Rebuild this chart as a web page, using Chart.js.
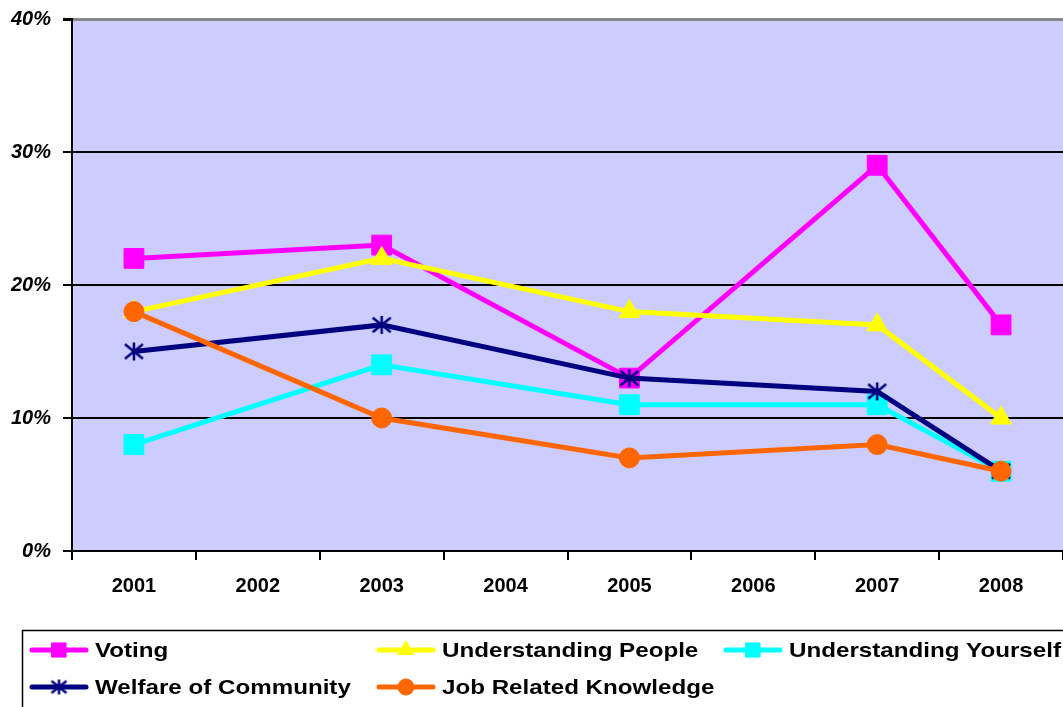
<!DOCTYPE html>
<html>
<head>
<meta charset="utf-8">
<script src="https://cdn.jsdelivr.net/npm/chart.js@4"></script>
<style>
  html, body { margin: 0; padding: 0; background: #fff; }
  #wrap { position: relative; width: 1063px; height: 707px; }
</style>
</head>
<body>
<div id="wrap"><canvas id="chart"></canvas></div>
<script>
const years = ['2001', '2002', '2003', '2004', '2005', '2006', '2007', '2008'];
const yTicks = [0, 10, 20, 30, 40];

// percent values, no survey in 2002/2004/2006
const voting = [22, null, 23, null, 13, null, 29, 17];
const understandingPeople = [18, null, 22, null, 18, null, 17, 10];
const understandingYourself = [8, null, 14, null, 11, null, 11, 6];
const welfareOfCommunity = [15, null, 17, null, 13, null, 12, 6];
const jobKnowledge = [18, null, 10, null, 7, null, 8, 6];

const FONT = '"Liberation Sans", Arial, sans-serif';

// Excel-style asterisk: an X plus a vertical bar
function makeAsterisk(size, color) {
    const c = document.createElement('canvas');
    c.width = size;
    c.height = size;
    const g = c.getContext('2d');
    const m = size / 2;
    const r = size / 2 - 2;
    g.strokeStyle = color;
    g.lineWidth = 2.5;
    g.lineCap = 'butt';
    g.beginPath();
    g.moveTo(m, m - r); g.lineTo(m, m + r);
    g.moveTo(m - r, m - r * 0.8); g.lineTo(m + r, m + r * 0.8);
    g.moveTo(m - r, m + r * 0.8); g.lineTo(m + r, m - r * 0.8);
    g.stroke();
    return c;
}

const starBig = makeAsterisk(22, '#000080');
const starSmall = makeAsterisk(19, '#000080');

function series(label, data, color, style, radius, order) {
    return {
        label: label,
        data: data,
        borderColor: color,
        backgroundColor: color,
        pointBackgroundColor: color,
        pointBorderColor: color,
        pointStyle: style,
        pointRadius: radius,
        pointHoverRadius: radius,
        pointBorderWidth: 1,
        borderWidth: 5,
        spanGaps: true,
        tension: 0,
        clip: false,
        order: order
    };
}

const plotBackground = {
    id: 'plotBackground',
    beforeDraw (chart) {
        const a = chart.chartArea;
        const ctx = chart.ctx;
        ctx.save();
        ctx.fillStyle = '#CCCCFF';
        ctx.fillRect(a.left, a.top, a.right - a.left, a.bottom - a.top);
        ctx.restore();
    }
};

const legendPointRadius = { rect: 10, triangle: 9, circle: 8 };

// legend box laid out in columns like the original
const boxLegend = {
    id: 'boxLegend',
    afterDraw (chart) {
        const ctx = chart.ctx;
        const slots = [
            [30, 650], [377, 650], [724, 650],
            [30, 687], [377, 687]
        ];
        ctx.save();
        ctx.strokeStyle = '#000';
        ctx.lineWidth = 1.5;
        ctx.strokeRect(22.5, 630.5, 1100, 100);
        chart.data.datasets.forEach((ds, i) => {
            const [x, y] = slots[i];
            ctx.strokeStyle = ds.borderColor;
            ctx.lineWidth = 5;
            ctx.lineCap = 'round';
            ctx.beginPath();
            ctx.moveTo(x + 2, y);
            ctx.lineTo(x + 56, y);
            ctx.stroke();
            ctx.fillStyle = ds.pointBackgroundColor;
            ctx.strokeStyle = ds.pointBorderColor;
            ctx.lineWidth = 1;
            const style = ds.pointStyle === starBig ? starSmall : ds.pointStyle;
            Chart.helpers.drawPoint(ctx, {
                pointStyle: style,
                rotation: 0,
                radius: legendPointRadius[style] || 8,
                borderWidth: 1
            }, x + 29, y);
            // text in the original is a little wider than Arial
            ctx.save();
            ctx.translate(x + 65, y + 1);
            ctx.scale(1.15, 1);
            ctx.fillStyle = '#000';
            ctx.font = 'bold 21px ' + FONT;
            ctx.textBaseline = 'middle';
            ctx.textAlign = 'left';
            ctx.fillText(ds.label, 0, 0);
            ctx.restore();
        });
        ctx.restore();
    }
};

const datasets = [
    series('Voting', voting, '#FF00FF', 'rect', 14, 4),
    series('Understanding People', understandingPeople, '#FFFF00', 'triangle', 12, 3),
    series('Understanding Yourself', understandingYourself, '#00FFFF', 'rect', 14, 2),
    series('Welfare of Community', welfareOfCommunity, '#000080', starBig, 11, 1),
    series('Job Related Knowledge', jobKnowledge, '#FF6600', 'circle', 10, 0)
];

new Chart(document.getElementById('chart'), {
    type: 'line',
    data: { labels: years, datasets: datasets },
    options: {
        responsive: true,
        maintainAspectRatio: false,
        animation: false,
        events: [],
        layout: { autoPadding: false, padding: { top: 19, right: 0, left: 0, bottom: 96 } },
        plugins: {
            legend: { display: false },
            tooltip: { enabled: false }
        },
        scales: {
            x: {
                type: 'category',
                offset: true,
                grid: {
                    offset: true,
                    drawOnChartArea: false,
                    drawTicks: true,
                    tickLength: 9,
                    color: '#000',
                    lineWidth: 2
                },
                border: { color: '#000', width: 2 },
                ticks: {
                    color: '#000',
                    font: { family: FONT, size: 20, weight: 'bold' },
                    padding: 14,
                    maxRotation: 0,
                    autoSkip: false
                },
                afterFit (scale) {
                    scale.height = 60;
                    scale.paddingLeft = 0;
                    scale.paddingRight = 0;
                }
            },
            y: {
                min: 0,
                max: 40,
                afterBuildTicks (scale) { scale.ticks = yTicks.map(v => ({ value: v })); },
                grid: {
                    color: (c) => (c.tick && c.tick.value === 40) ? '#888888' : '#000',
                    lineWidth: (c) => (c.tick && c.tick.value === 40) ? 3 : 2,
                    tickLength: 9,
                    tickColor: '#000'
                },
                border: { color: '#000', width: 2 },
                ticks: {
                    color: '#000',
                    font: { family: FONT, size: 20, weight: 'bold', style: 'italic' },
                    padding: 12,
                    callback: (v) => v + '%'
                },
                afterFit (scale) {
                    scale.width = 72;
                    scale.paddingTop = 0;
                    scale.paddingBottom = 0;
                }
            }
        }
    },
    plugins: [plotBackground, boxLegend]
});
</script>
</body>
</html>
